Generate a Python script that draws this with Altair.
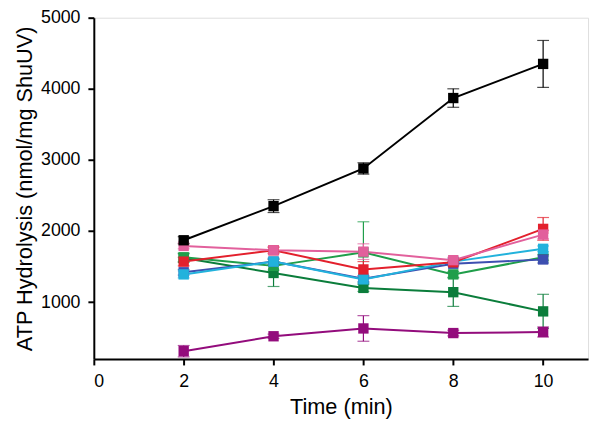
import altair as alt
import pandas as pd

times = [2, 4, 6, 8, 10]
series_names = ["darkgreen", "lightgreen", "blue", "cyan", "red", "pink", "purple", "black"]
series_colors = ["#0b7d3b", "#1f9e4a", "#3d4fb0", "#22b2dc", "#e3202c", "#e2609c", "#930c7c", "#000000"]

black = [1870, 2350, 2880, 3870, 4350]
black_err = [50, 90, 80, 130, 330]
red = [1570, 1730, 1460, 1560, 2030]
red_err = [60, 40, 110, 40, 160]
pink = [1790, 1730, 1710, 1590, 1950]
pink_err = [40, 50, 110, 40, 60]
lightgreen = [1630, 1510, 1700, 1390, 1630]
lightgreen_err = [60, 60, 430, 40, 40]
darkgreen = [1620, 1410, 1200, 1140, 870]
darkgreen_err = [60, 190, 50, 200, 240]
cyan = [1390, 1570, 1320, 1570, 1750]
cyan_err = [50, 50, 50, 40, 40]
blue = [1420, 1570, 1330, 1540, 1600]
blue_err = [40, 40, 40, 30, 50]
purple = [310, 520, 630, 565, 580]
purple_err = [80, 30, 180, 40, 70]

vals = {
    "black": (black, black_err),
    "red": (red, red_err),
    "pink": (pink, pink_err),
    "lightgreen": (lightgreen, lightgreen_err),
    "darkgreen": (darkgreen, darkgreen_err),
    "cyan": (cyan, cyan_err),
    "blue": (blue, blue_err),
    "purple": (purple, purple_err),
}

rows = []
for order, name in enumerate(series_names):
    ys, es = vals[name]
    for t, y, e in zip(times, ys, es):
        rows.append({"series": name, "order": order, "t": t, "y": y,
                     "lo": y - e, "hi": y + e})
df = pd.DataFrame(rows)

FONT = "Liberation Sans"
color = alt.Color("series:N", scale=alt.Scale(domain=series_names, range=series_colors), legend=None)

xenc = alt.X("t:Q", scale=alt.Scale(domain=[0, 11], nice=False, zero=False),
             axis=alt.Axis(values=[0, 2, 4, 6, 8, 10], title="Time (min)", grid=False, format="d",
                           domainColor="black", domainWidth=2, tickColor="black", tickWidth=2,
                           tickSize=6, labelFontSize=18, labelColor="black", labelFont=FONT,
                           labelPadding=8, titleFont=FONT, titleFontSize=22, titleFontWeight="normal",
                           titleColor="black", titlePadding=6))
yscale = alt.Scale(domain=[200, 5000], nice=False, zero=False)
yenc = alt.Y("y:Q", scale=yscale,
             axis=alt.Axis(values=[1000, 2000, 3000, 4000, 5000], title="ATP Hydrolysis (nmol/mg ShuUV)",
                           grid=False, format="d", domainColor="black", domainWidth=2, tickColor="black",
                           tickWidth=2, tickSize=6, labelFontSize=18, labelColor="black",
                           labelFont=FONT, labelPadding=8, titleFont=FONT, titleFontSize=22,
                           titleFontWeight="normal", titleColor="black", titlePadding=4))

base = alt.Chart(df)

rules = base.mark_rule(strokeWidth=1.2).encode(
    x="t:Q", y=alt.Y("lo:Q", scale=yscale), y2="hi:Q", color=color)
caps_hi = base.mark_tick(orient="horizontal", size=12, thickness=1.2).encode(
    x="t:Q", y=alt.Y("hi:Q", scale=yscale), color=color)
caps_lo = base.mark_tick(orient="horizontal", size=12, thickness=1.2).encode(
    x="t:Q", y=alt.Y("lo:Q", scale=yscale), color=color)
lines = base.mark_line(strokeWidth=2).encode(
    x=xenc, y=yenc, color=color, detail="series:N", order="t:Q")
points = base.mark_point(shape="square", filled=True, size=110, opacity=1).encode(
    x="t:Q", y="y:Q", color=color)

chart = alt.layer(rules, caps_hi, caps_lo, lines, points).properties(
    width=501, height=346,
    autosize=alt.AutoSizeParams(type="none"),
    padding={"left": 87, "top": 7, "right": 4, "bottom": 60},
).configure_view(stroke="black", strokeWidth=2).configure(background="white")

chart.save("out.html", embed_options={"renderer": "svg", "actions": False})
